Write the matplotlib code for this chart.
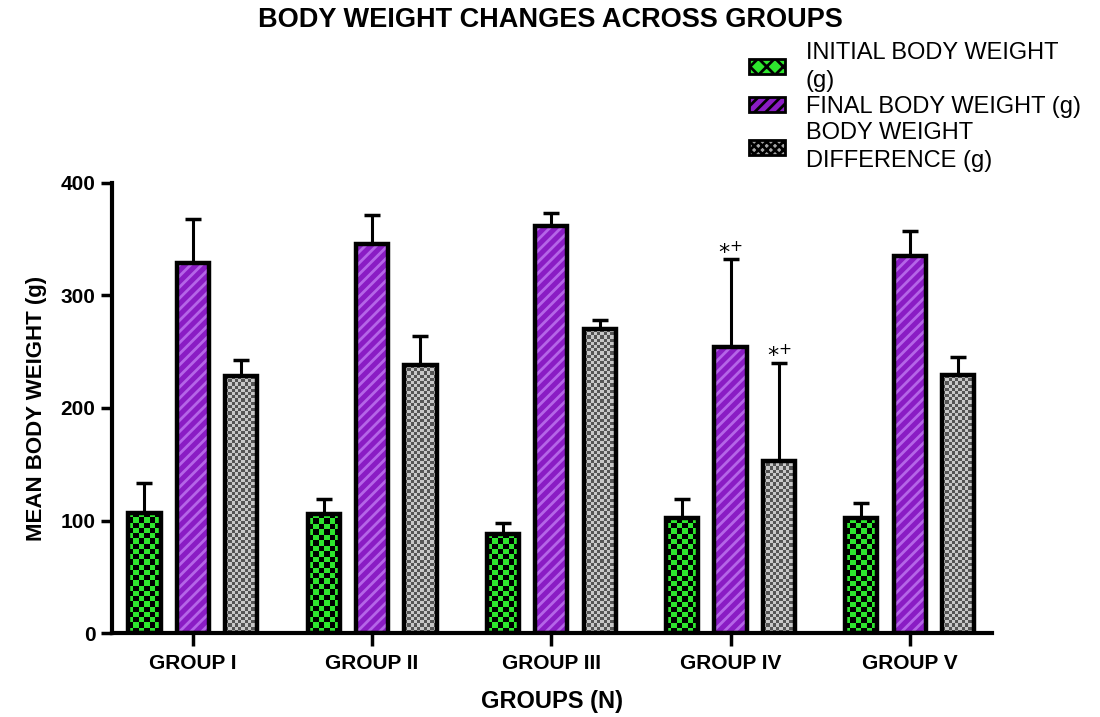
import numpy as np
import matplotlib.pyplot as plt
from matplotlib.colors import ListedColormap
from matplotlib.patches import Patch

plt.rcParams['font.family'] = ['Liberation Sans', 'DejaVu Sans']
plt.rcParams['hatch.linewidth'] = 2.0

# datos
grupos = ['GROUP I', 'GROUP II', 'GROUP III', 'GROUP IV', 'GROUP V']
inicial = [107, 106, 88, 102, 102]
inicial_err = [26, 13, 10, 17, 14]
final = [329, 346, 362, 254, 335]
final_err = [39, 25, 11, 78, 22]
diferencia = [228, 238, 270, 153, 229]
diferencia_err = [15, 26, 8, 87, 16]
series = ['INITIAL BODY WEIGHT\n(g)', 'FINAL BODY WEIGHT (g)', 'BODY WEIGHT\nDIFFERENCE (g)']

verde = '#2ee62e'
morado = '#8a1cc4'
gris = '#a8a8a8'

fig = plt.figure(figsize=(11, 7.17), dpi=100)
ax = fig.add_axes([0.102, 0.117, 0.8, 0.628])

x = np.arange(len(grupos))
ancho = 0.18
paso = 0.27


def tablero(barras, c1, c2, celda):
    # rellena cada barra con un patron de tablero recortado a la barra
    for r in barras:
        x0 = r.get_x()
        w = r.get_width()
        h = r.get_height()
        nx = max(1, int(round(32 / celda)))
        ny = max(1, int(round(h * 1.125 / celda)))
        arr = np.indices((ny, nx)).sum(axis=0) % 2
        im = ax.imshow(arr, extent=[x0, x0 + w, 0, h], cmap=ListedColormap([c1, c2]),
                       aspect='auto', interpolation='nearest', zorder=2, origin='lower')
        im.set_clip_path(r)


# barras iniciales
b1 = ax.bar(x - paso, inicial, ancho, color=verde, zorder=2)
tablero(b1, verde, 'black', 5.3)
# barras finales
b2 = ax.bar(x, final, ancho, color=morado, edgecolor='#b565e8', hatch='///', linewidth=0, zorder=2)
# barras diferencia
b3 = ax.bar(x + paso, diferencia, ancho, color=gris, zorder=2)
tablero(b3, '#c8c8c8', '#555555', 3.2)

for pos, vals in [(x - paso, inicial), (x, final), (x + paso, diferencia)]:
    ax.bar(pos, vals, ancho, facecolor='none', edgecolor='black', linewidth=3.2, zorder=3)

for pos, vals, err in [(x - paso, inicial, inicial_err), (x, final, final_err),
                       (x + paso, diferencia, diferencia_err)]:
    ax.errorbar(pos, vals, yerr=[[0] * len(vals), err], fmt='none', ecolor='black',
                elinewidth=2.2, capsize=5.5, capthick=2.5, zorder=1)

# marcas de significancia en el grupo IV
for pos, vals, err in [(x[3], final[3], final_err[3]), (x[3] + paso, diferencia[3], diferencia_err[3])]:
    ax.text(pos, vals + err - 2, r'$*^{+}$', ha='center', va='bottom', fontsize=16)

ax.set_xlim(-0.45, 4.46)
ax.set_ylim(0, 400)
ax.set_yticks([0, 100, 200, 300, 400])
ax.set_xticks(x)
ax.set_xticklabels(grupos, fontweight='bold', fontsize=15)
for t in ax.get_yticklabels():
    t.set_fontweight('bold')
    t.set_fontsize(15)
ax.tick_params(axis='both', width=2.5, length=8, pad=4)
ax.tick_params(axis='x', length=9, pad=6)

for s in ['top', 'right']:
    ax.spines[s].set_visible(False)
for s in ['left', 'bottom']:
    ax.spines[s].set_linewidth(3)

ax.set_ylabel('MEAN BODY WEIGHT (g)', fontweight='bold', fontsize=16, labelpad=10)
ax.set_xlabel('GROUPS (N)', fontweight='bold', fontsize=17, labelpad=12)

fig.text(0.5, 0.972, 'BODY WEIGHT CHANGES ACROSS GROUPS', ha='center', va='center',
         fontweight='bold', fontsize=19.5)

manijas = [Patch(facecolor=verde, edgecolor='black', hatch='xx', linewidth=2),
           Patch(facecolor=morado, edgecolor='black', hatch='///', linewidth=2),
           Patch(facecolor=gris, edgecolor='black', hatch='xxxx', linewidth=2)]
leg = fig.legend(manijas, series, loc='upper left', bbox_to_anchor=(0.666, 0.965), frameon=False,
                 fontsize=17, handlelength=1.5, handleheight=0.6, handletextpad=0.9,
                 labelspacing=0.18, borderpad=0.2)
for t in leg.get_texts():
    t.set_linespacing(1.35)

fig.savefig('out.png', dpi=100)
